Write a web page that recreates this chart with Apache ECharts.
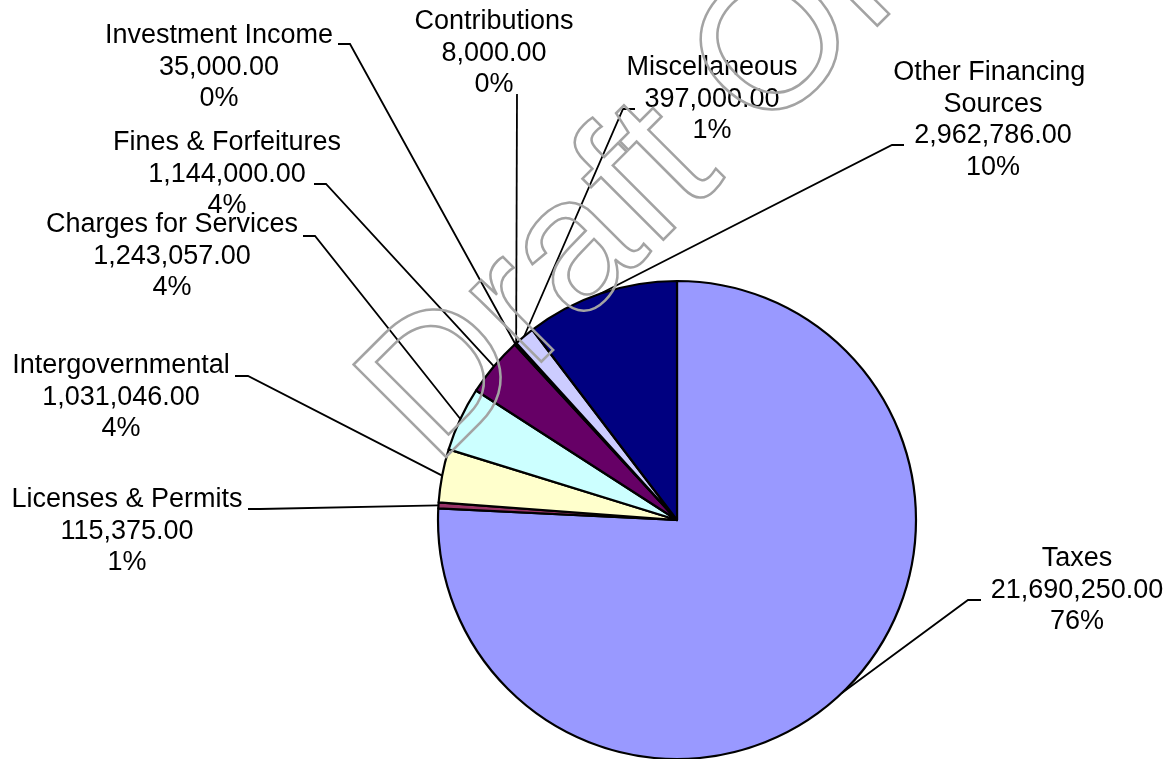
<!DOCTYPE html>
<html>
<head>
<meta charset="utf-8">
<title>Revenue Sources</title>
<script src="https://cdn.jsdelivr.net/npm/echarts@6/dist/echarts.min.js"></script>
<style>
  html, body { margin: 0; padding: 0; background: #ffffff; }
  #chart { width: 1170px; height: 759px; }
</style>
</head>
<body>
<div id="chart"></div>
<script>
// Revenue categories, in slice order (clockwise from 12 o'clock)
const categories = [
  'Taxes',
  'Licenses & Permits',
  'Intergovernmental',
  'Charges for Services',
  'Fines & Forfeitures',
  'Investment Income',
  'Contributions',
  'Miscellaneous',
  'Other Financing Sources'
];

// Budgeted amounts for each category
const amounts = [21690250, 115375, 1031046, 1243057, 1144000, 35000, 8000, 397000, 2962786];

// Classic spreadsheet fill palette
const sliceColors = ['#9999FF', '#993366', '#FFFFCC', '#CCFFFF', '#660066', '#FF8080', '#0066CC', '#CCCCFF', '#000080'];

// Label block placement: centre x, top y, and the short leader tick beside the text
// (tick: [point next to text, point where the leader turns toward the slice])
const labelPlacement = [
  { x: 1077, top: 543, tick: [[981, 600], [968, 600]] },
  { x: 127,  top: 484, tick: [[248, 509], [260, 509]] },
  { x: 121,  top: 350, tick: [[235, 376], [248, 376]] },
  { x: 172,  top: 209, tick: [[303, 236], [315, 236]] },
  { x: 227,  top: 127, tick: [[314, 184], [326, 184]] },
  { x: 219,  top: 20,  tick: [[338, 44],  [350, 44]] },
  { x: 494,  top: 6,   tick: [[517, 94],  [517, 94]] },
  { x: 712,  top: 52,  tick: [[635, 109], [623, 109]] },
  { x: 993,  top: 57,  tick: [[904, 145], [892, 145]] }
];

function formatAmount(v) {
  const parts = v.toFixed(2).split('.');
  parts[0] = parts[0].replace(/\B(?=(\d{3})+(?!\d))/g, ',');
  return parts.join('.');
}

const pieData = categories.map(function (name, i) {
  const item = { name: name, value: amounts[i], itemStyle: { color: sliceColors[i] } };
  if (name === 'Other Financing Sources') {
    item.label = { width: 205, overflow: 'break' };
  }
  return item;
});

const chart = echarts.init(document.getElementById('chart'), null, { renderer: 'canvas' });

chart.setOption({
  backgroundColor: '#ffffff',
  animation: false,
  series: [{
    type: 'pie',
    center: [677, 520],
    radius: 239,
    startAngle: 90,
    clockwise: true,
    avoidLabelOverlap: false,
    percentPrecision: 0,
    data: pieData,
    itemStyle: { borderColor: '#000000', borderWidth: 2.2 },
    emphasis: { disabled: true },
    label: {
      show: true,
      position: 'outside',
      color: '#000000',
      fontFamily: '"Liberation Sans", Arial, Helvetica, sans-serif',
      fontSize: 27,
      lineHeight: 31.5,
      align: 'center',
      formatter: function (p) {
        return p.name + '\n' + formatAmount(p.value) + '\n' + p.percent + '%';
      }
    },
    labelLine: {
      show: true,
      length: 20,
      length2: 12,
      lineStyle: { color: '#000000', width: 1.8 }
    },
    labelLayout: function (params) {
      const place = labelPlacement[params.dataIndex];
      const out = { x: place.x, y: place.top, align: 'center', verticalAlign: 'top' };
      const pts = params.labelLinePoints;
      if (pts && pts.length) {
        out.labelLinePoints = [pts[0], place.tick[1], place.tick[0]];
      }
      return out;
    }
  }],
  graphic: [{
    type: 'text',
    silent: true,
    z: 100,
    x: 398,
    y: 431,
    rotation: Math.PI / 4,
    style: {
      text: 'Draft Only',
      font: '190px "Liberation Sans", Arial, Helvetica, sans-serif',
      fill: 'none',
      stroke: '#a3a3a3',
      lineWidth: 2.5,
      align: 'left',
      verticalAlign: 'middle'
    }
  }]
});
</script>
</body>
</html>
